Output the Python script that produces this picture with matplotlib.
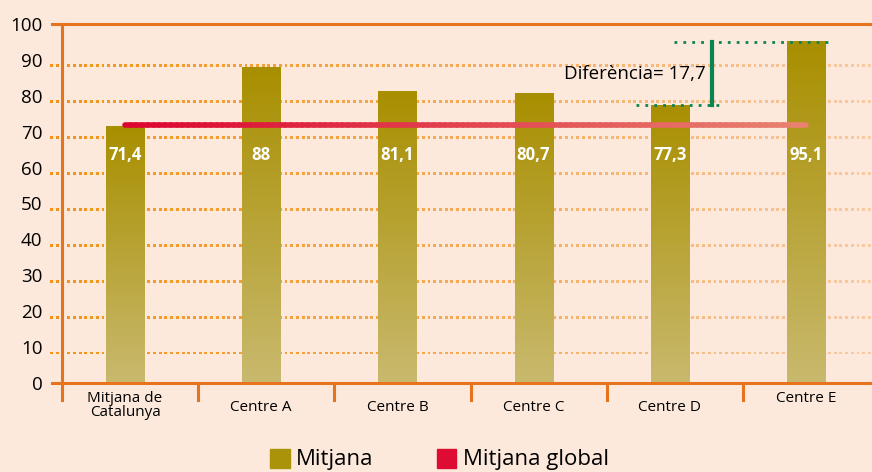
import numpy as np
import matplotlib.pyplot as plt
from matplotlib.collections import LineCollection
from matplotlib.colors import LinearSegmentedColormap
from matplotlib.patches import Rectangle

plt.rcParams['font.family'] = ['Open Sans', 'DejaVu Sans']

categories = ["Mitjana de\nCatalunya", "Centre A", "Centre B", "Centre C", "Centre D", "Centre E"]
mitjana = [71.4, 88, 81.1, 80.7, 77.3, 95.1]
etiquetes = ["71,4", "88", "81,1", "80,7", "77,3", "95,1"]
mitjana_global = 72
diferencia = 17.7

fons = "#fce9db"
taronja = "#e8731e"
verd = "#0b8454"

fig = plt.figure(figsize=(8.72, 4.72), dpi=100, facecolor=fons)
ax = fig.add_axes([62 / 872, 89 / 472, 1 - 62 / 872, 359 / 472])
ax.set_facecolor(fons)
for s in ax.spines.values():
    s.set_visible(False)

# linies de la graella: punts que s'aclareixen cap a la dreta
grad_punts = LinearSegmentedColormap.from_list("punts", ["#f39418", "#f6aa55", "#f8c9a2"])
xp = np.arange(-0.54, 5.485, 0.042)
for y in range(10, 100, 10):
    ax.scatter(xp, np.full(len(xp), y - 1.65), c=xp, cmap=grad_punts, vmin=-0.54, vmax=5.485,
               s=4.5, marker='s', linewidths=0, clip_on=False, zorder=1)

# eixos
ax.plot([-0.54, 5.485], [0, 0], color=taronja, lw=2.2, clip_on=False, zorder=4)
ax.plot([-0.54, 5.485], [100, 100], color=taronja, lw=2.2, clip_on=False, zorder=4)
ax.plot([-0.463, -0.463], [-4.8, 100], color=taronja, lw=2.2, clip_on=False, zorder=4)
for i in range(1, 6):
    ax.plot([i - 0.463, i - 0.463], [0, -4.8], color=taronja, lw=2.2,
            clip_on=False, zorder=4)

ax.set_xticks([])
ax.set_yticks(range(0, 101, 10))
ax.tick_params(axis='y', length=0, pad=14, labelsize=13.5)

# barres amb degradat
grad_barra = LinearSegmentedColormap.from_list("barra", ["#c9b96e", "#a88f00"])
amplada = 0.28
for i, v in enumerate(mitjana):
    g = np.linspace(0, 1, 256).reshape(-1, 1)
    ax.imshow(g, cmap=grad_barra, origin='lower', aspect='auto',
              extent=(i - amplada / 2, i + amplada / 2, 0, v), zorder=2)
    ax.text(i, 63.5, etiquetes[i], color="white", fontsize=12, fontweight="bold",
            ha="center", va="center", zorder=6)
ax.set_xlim(-0.463, 5.485)
ax.set_ylim(0, 100)

# linia de la mitjana global amb degradat
grad_linia = LinearSegmentedColormap.from_list("linia", ["#dc0530", "#e8826f"])
xs = np.linspace(0, 5, 120)
segs = [[(xs[k], mitjana_global), (xs[k + 1], mitjana_global)] for k in range(len(xs) - 1)]
lc = LineCollection(segs, cmap=grad_linia, linewidths=4, capstyle='round', zorder=5)
lc.set_array(np.linspace(0, 1, len(segs)))
ax.add_collection(lc)

# etiquetes de categoria
pos_y = [-6.2, -6.7, -6.7, -6.7, -6.7, -4.2]
for i, c in enumerate(categories):
    ax.text(i, pos_y[i], c, ha="center", va="center", fontsize=11,
            linespacing=0.95, clip_on=False)

# diferencia entre el centre E i el centre D
ax.plot([4.03, 5.2], [mitjana[5], mitjana[5]], ls=(0, (1, 2.2)), lw=2, color=verd,
        zorder=6, clip_on=False)
ax.plot([3.75, 4.39], [mitjana[4], mitjana[4]], ls=(0, (1, 2.2)), lw=2, color=verd,
        zorder=6)
ax.plot([4.31, 4.31], [mitjana[4], mitjana[5]], lw=3, color=verd, zorder=6)
ax.text(4.265, 86.1, "Diferència= " + str(diferencia).replace(".", ","),
        ha="right", va="center", fontsize=13.5)

# llegenda
fig.patches.append(Rectangle((270 / 872, 4 / 472), 20 / 872, 19 / 472,
                             transform=fig.transFigure, color="#aa9308"))
fig.text(296 / 872, 12 / 472, "Mitjana", fontsize=16, va="center")
fig.patches.append(Rectangle((437 / 872, 4 / 472), 19 / 872, 19 / 472,
                             transform=fig.transFigure, color="#de0c32"))
fig.text(463 / 872, 12 / 472, "Mitjana global", fontsize=16, va="center")

fig.savefig("out.png", dpi=100, facecolor=fons)
